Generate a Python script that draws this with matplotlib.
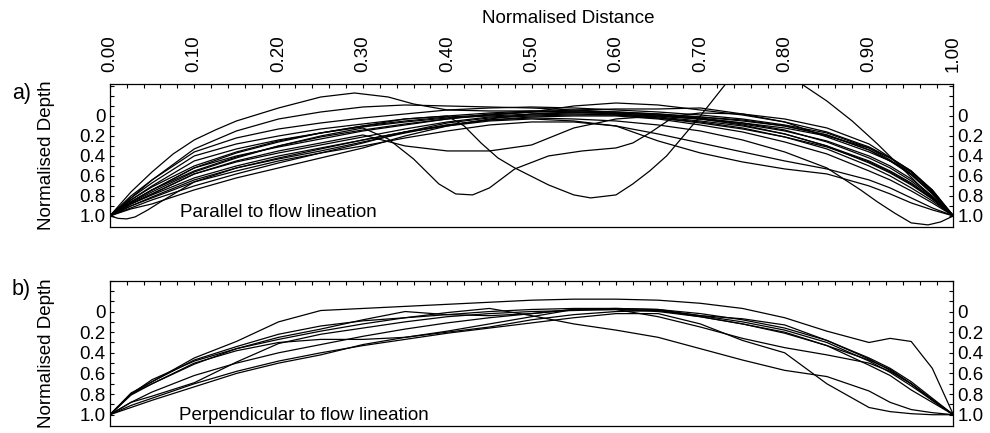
import matplotlib
matplotlib.use("Agg")
import matplotlib.pyplot as plt
import numpy as np

plt.rcParams['font.family'] = ['Liberation Sans', 'DejaVu Sans']

# normalised distance (shared sample positions)
dist = [0, .025, .05, .1, .15, .2, .25, .3, .35, .4, .45, .5, .55, .6, .65, .7,
        .75, .8, .85, .9, .925, .95, .975, 1.0]
# finer sampling for the profiles with sharp bends
dist_arc = [0, .025, .05, .075, .1, .125, .15, .2, .25, .29, .33, .36, .4, .45, .5,
            .55, .6, .65, .7, .75, .8, .85, .9, .925, .95, .975, 1.0]
dist_dip_a = [0, .025, .05, .1, .15, .2, .25, .3, .33, .36, .39, .41, .43, .45, .48,
              .52, .56, .6, .62, .64, .67, .7, .75, .8, .85, .9, .95, .975, 1.0]
dist_dip_b = [0, .025, .05, .1, .15, .2, .25, .3, .35, .4, .42, .44, .46, .48, .52,
              .55, .57, .6, .62, .64, .66, .7, .73, .76, .79, .82, .85, .88, .91,
              .94, .97, 1.0]
dist_edge = [0, .01, .02, .03, .045, .06, .1, .15, .2, .25, .3, .35, .4, .45, .5, .55,
             .6, .65, .7, .75, .8, .85, .87, .89, .91, .93, .95, .97, .985, 1.0]

# a) parallel to flow lineation -- normalised depth
par_arc = [1.0, .76, .56, .38, .24, .14, .05, -.08, -.19, -.23, -.19, -.12, -.06, -.05, -.05,
           -.04, -.02, .0, .03, .07, .12, .20, .32, .42, .55, .74, 1.0]
par_dip_a = [1.0, .87, .76, .56, .42, .30, .20, .12, .23, .43, .68, .78, .79, .72, .53,
             .40, .35, .32, .27, .17, .0, -.03, -.02, .03, .12, .28, .55, .75, 1.0]
par_dip_b = [1.0, .86, .74, .52, .37, .26, .17, .10, .03, .0, .10, .27, .42, .52, .69,
             .79, .82, .79, .68, .55, .40, .0, -.32, -.50, -.50, -.32, -.15, .05, .28,
             .53, .78, 1.0]
par_edge = [1.0, 1.025, 1.03, 1.01, .94, .86, .66, .52, .42, .33, .24, .16, .09, .04, .02,
            .03, .05, .09, .15, .24, .36, .52, .63, .74, .86, .97, 1.07, 1.09, 1.06, 1.0]
par_dip_shallow = [1.0, .88, .78, .58, .45, .35, .27, .19, .30, .35, .35, .29, .12, .03, .0, .03, .08, .15, .25, .40, .50, .63, .80, 1.0]
par_bump = [1.0, .84, .71, .50, .36, .25, .17, .10, .05, .01, -.01, -.04, -.10, -.13, -.11, -.06, -.01, .06, .16, .31, .42, .56, .76, 1.0]
par_upper_right = [1.0, .86, .74, .55, .41, .30, .21, .14, .08, .03, -.01, -.04, -.06, -.07, -.07, -.08, -.02, .06, .21, .36, .45, .56, .74, 1.0]
par_lower_right = [1.0, .90, .82, .66, .55, .45, .37, .30, .22, .15, .09, .06, .06, .10, .25, .37, .46, .53, .58, .70, .78, .87, .94, 1.0]
par_lower_right2 = [1.0, .88, .79, .62, .50, .40, .32, .24, .16, .10, .05, .03, .05, .10, .18, .27, .36, .45, .53, .64, .72, .82, .92, 1.0]
par_lower_left = [1.0, .92, .84, .70, .58, .47, .37, .27, .16, .07, .02, .0, -.01, -.01, .02, .07, .13, .21, .31, .46, .56, .68, .83, 1.0]
par_lower_left2 = [1.0, .93, .88, .74, .62, .52, .42, .32, .20, .10, .03, -.02, -.04, -.03, -.01, .03, .09, .18, .30, .45, .55, .67, .82, 1.0]
par_m1 = [1.0, .84, .70, .45, .33, .24, .17, .11, .06, .02, .0, -.02, -.03, -.03, -.01, .02, .07, .14, .26, .42, .52, .65, .81, 1.0]
par_m2 = [1.0, .82, .67, .40, .28, .20, .13, .08, .03, .0, -.03, -.05, -.05, -.04, -.02, .01, .04, .10, .19, .34, .45, .59, .78, 1.0]
par_m3 = [1.0, .88, .78, .58, .46, .37, .29, .21, .13, .06, .01, -.01, -.02, -.01, .02, .06, .12, .21, .33, .50, .60, .72, .85, 1.0]
par_m4 = [1.0, .86, .74, .52, .40, .31, .23, .15, .09, .03, -.02, -.04, -.04, -.02, .01, .05, .10, .18, .30, .47, .57, .69, .83, 1.0]
par_m5 = [1.0, .82, .64, .36, .22, .13, .07, .02, -.02, -.06, -.08, -.09, -.08, -.06, -.04, -.01, .03, .09, .17, .32, .44, .58, .77, 1.0]
par_m6 = [1.0, .90, .81, .64, .52, .43, .35, .26, .17, .09, .04, .01, .0, .0, .03, .09, .16, .26, .38, .55, .64, .75, .87, 1.0]
par_m7 = [1.0, .80, .64, .33, .15, .03, -.04, -.09, -.11, -.10, -.09, -.08, -.06, -.04, -.02, .01, .05, .10, .19, .34, .45, .58, .77, 1.0]

parallel = [(dist_arc, par_arc), (dist_dip_a, par_dip_a), (dist_dip_b, par_dip_b),
            (dist_edge, par_edge), (dist, par_dip_shallow), (dist, par_bump),
            (dist, par_upper_right), (dist, par_lower_right), (dist, par_lower_right2),
            (dist, par_lower_left), (dist, par_lower_left2), (dist, par_m1),
            (dist, par_m2), (dist, par_m3), (dist, par_m4), (dist, par_m5),
            (dist, par_m6), (dist, par_m7)]

# b) perpendicular to flow lineation -- normalised depth
per_top = [1.0, .80, .68, .45, .29, .10, -.01, -.03, -.05, -.07, -.09, -.11, -.12, -.12, -.11, -.08, -.03, .06, .19, .30, .26, .29, .55, 1.0]
per_hump = [1.0, .80, .70, .51, .36, .25, .17, .08, .0, .03, .04, .02, -.02, -.02, .0, .05, .12, .20, .33, .52, .62, .76, .88, 1.0]
per_flat = [1.0, .81, .70, .50, .38, .30, .27, .27, .25, .20, .15, .08, .03, .0, -.01, .04, .07, .13, .28, .46, .57, .70, .86, 1.0]
per_mid = [1.0, .79, .68, .47, .34, .22, .14, .09, .06, .03, .0, -.02, -.03, -.03, -.02, .04, .10, .18, .30, .48, .59, .72, .86, 1.0]
per_diag = [1.0, .88, .82, .69, .49, .31, .22, .16, .10, .05, .02, .0, -.01, -.02, -.01, .05, .12, .21, .33, .47, .56, .70, .85, 1.0]
per_low = [1.0, .93, .86, .73, .60, .50, .42, .32, .25, .19, .12, .05, -.02, -.03, -.02, .02, .08, .16, .28, .45, .55, .68, .84, 1.0]
per_desc = [1.0, .80, .66, .48, .36, .27, .19, .12, .06, .01, -.03, .04, .12, .18, .25, .36, .47, .57, .63, .77, .88, .95, .98, 1.0]
per_low2 = [1.0, .91, .84, .70, .58, .48, .40, .33, .27, .21, .16, .11, .06, .02, .02, .12, .28, .40, .70, .93, .97, .99, 1.0, 1.0]
per_low3 = [1.0, .88, .78, .62, .50, .40, .32, .24, .17, .11, .06, .02, -.02, -.02, .05, .15, .26, .35, .42, .50, .58, .70, .86, 1.0]

perpendicular = [(dist, c) for c in [per_top, per_hump, per_flat, per_mid, per_diag,
                                     per_low, per_desc, per_low2, per_low3]]

fig = plt.figure(figsize=(9.9, 4.33), dpi=100)
ax1 = fig.add_axes([0.111, 0.476, 0.852, 0.330])
ax2 = fig.add_axes([0.111, 0.016, 0.852, 0.336])

fs = 13.5
for ax, curves, ylim in [(ax1, parallel, (1.11, -0.32)), (ax2, perpendicular, (1.11, -0.105))]:
    for xs, ys in curves:
        ax.plot(xs, ys, color='black', lw=0.9)
    ax.set_xlim(0, 1)
    ax.set_ylim(*ylim)
    for s in ax.spines.values():
        s.set_linewidth(0.9)
    ax.set_yticks([0, .2, .4, .6, .8, 1.0])
    ax.set_yticklabels(['0', '0.2', '0.4', '0.6', '0.8', '1.0'])
    ax.set_yticks(np.arange(-0.3, 1.1, 0.1), minor=True)
    ax.tick_params(axis='y', which='both', direction='in', left=True, right=True,
                   labelleft=True, labelright=True, labelsize=fs, pad=3,
                   length=3, width=0.8)
    ax.set_xticks(np.arange(0, 1.01, 0.1))
    ax.set_xticks(np.arange(0, 1.01, 0.02), minor=True)
    ax.tick_params(axis='x', which='both', direction='in', top=True, bottom=False,
                   labelbottom=False, length=3, width=0.8)

ax1.tick_params(axis='x', labeltop=True, labelsize=fs, labelrotation=90, pad=9)
ax1.set_xticklabels(['0.00', '0.10', '0.20', '0.30', '0.40', '0.50',
                     '0.60', '0.70', '0.80', '0.90', '1.00'])
ax2.tick_params(axis='x', labeltop=False)

ax1.text(0.083, 0.965, 'Parallel to flow lineation', fontsize=fs, va='center', ha='left')
ax2.text(0.082, 1.01, 'Perpendicular to flow lineation', fontsize=fs, va='center', ha='left')

fig.text(0.574, 0.958, 'Normalised Distance', fontsize=fs, ha='center', va='center')
fig.text(0.047, 1 - 155 / 433, 'Normalised Depth', fontsize=fs, rotation=90, ha='center', va='center')
fig.text(0.047, 1 - 353 / 433, 'Normalised Depth', fontsize=fs, rotation=90, ha='center', va='center')
fig.text(0.012, 1 - 93 / 433, 'a)', fontsize=15.5, ha='left', va='center')
fig.text(0.012, 1 - 289 / 433, 'b)', fontsize=15.5, ha='left', va='center')

fig.savefig('out.png', dpi=100)
